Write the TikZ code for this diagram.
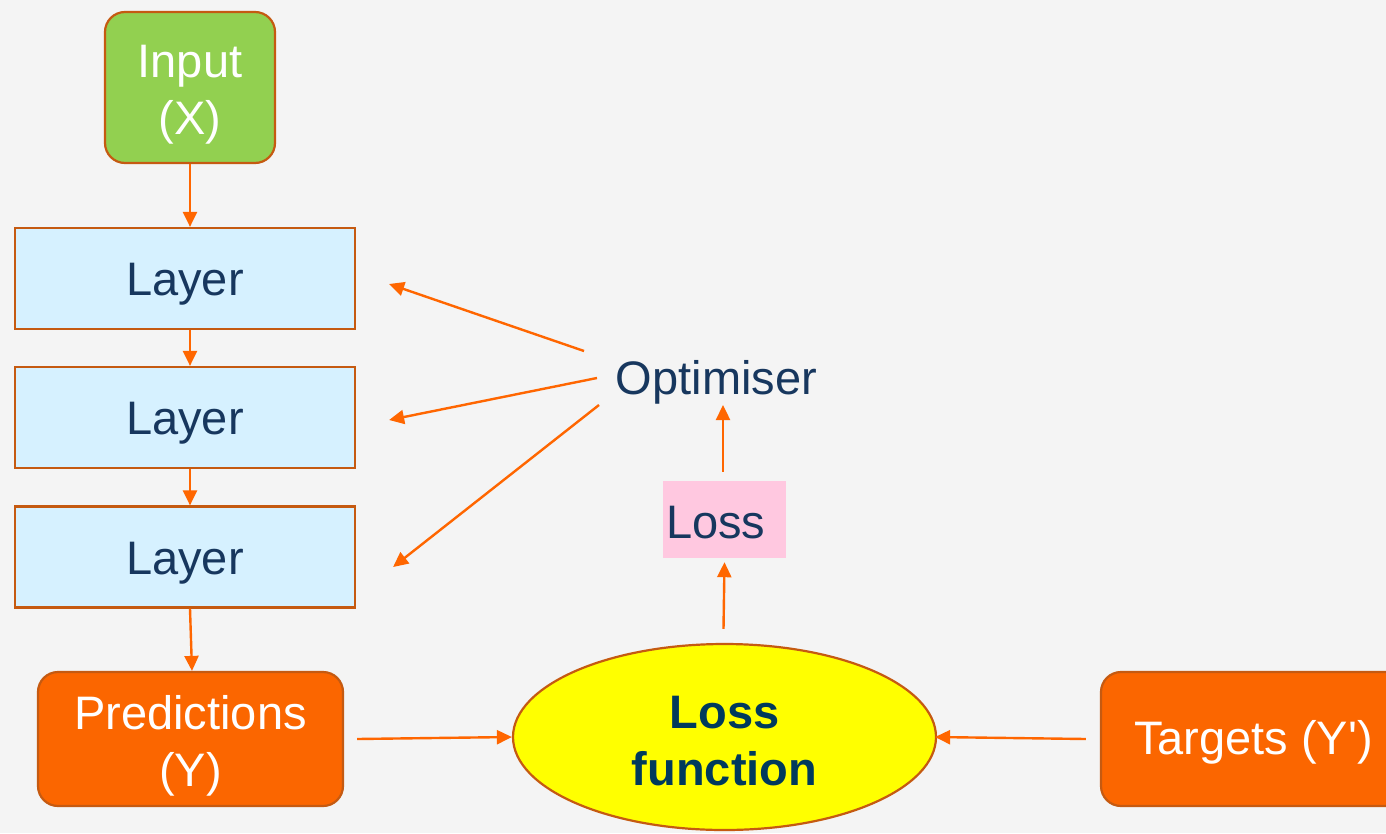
\documentclass[tikz,border=0pt]{standalone}
\usepackage{fontspec}
\setmainfont{Liberation Sans}[Ligatures=TeXOff]
\usetikzlibrary{arrows.meta,shapes.geometric}
\definecolor{bg}{HTML}{F4F4F4}
\definecolor{edge}{HTML}{C55A11}
\definecolor{arrowc}{HTML}{FF6600}
\definecolor{greenfill}{HTML}{92D050}
\definecolor{layerfill}{HTML}{D6F1FF}
\definecolor{navy}{HTML}{17375E}
\definecolor{boldnavy}{HTML}{003A5C}
\definecolor{orangefill}{HTML}{FB6600}
\definecolor{pinkfill}{HTML}{FFC8E0}
\definecolor{yellowfill}{HTML}{FFFF00}
\newcommand{\lowtxt}[2]{\raisebox{-#1}[\height][\depth]{\begin{tabular}{@{}c@{}}#2\end{tabular}}}
\begin{document}
\begin{tikzpicture}[x=1pt,y=-1pt,
  every node/.style={font=\fontsize{47}{57}\selectfont},
  box/.style={draw=edge, line width=2.2pt, inner sep=0pt, align=center},
  layerbox/.style={box, fill=layerfill, text=navy, minimum width=340pt, minimum height=101pt},
  roundbox/.style={box, rounded corners=20pt, text=white, minimum height=134pt},
  conn/.style={draw=arrowc, line width=2.4pt, -{Triangle[length=15pt,width=14pt]}}]
\useasboundingbox (0,0) rectangle (1386,833);
\fill[bg] (0,0) rectangle (1386,833);

\node[box, rounded corners=20pt, fill=greenfill, text=white, minimum width=170pt, minimum height=151pt] (input) at (190,87.5) {\lowtxt{7pt}{Input\\(X)}};
\node[layerbox] (layer1) at (185,278.5) {\lowtxt{6pt}{Layer}};
\node[layerbox] (layer2) at (185,417.5) {\lowtxt{6pt}{Layer}};
\node[layerbox] (layer3) at (185,557) {\lowtxt{6pt}{Layer}};
\node[roundbox, fill=orangefill, minimum width=305pt] (pred) at (190.5,739) {\lowtxt{8pt}{Predictions\\(Y)}};
\node[roundbox, fill=orangefill, minimum width=305pt] (targets) at (1253.5,739) {\lowtxt{4.5pt}{Targets (Y')}};
\node[ellipse, draw=edge, line width=2.2pt, fill=yellowfill, text=boldnavy, inner sep=0pt, align=center,
      minimum width=423pt, minimum height=186pt, font=\fontsize{47}{57}\selectfont\bfseries] (lossfn) at (724.5,737) {\lowtxt{9pt}{Loss\\function}};
\node[fill=pinkfill, text=navy, minimum width=123pt, minimum height=77pt, text width=117pt, inner xsep=3pt, inner ysep=0pt, align=left] (loss) at (724.5,519.5) {\raisebox{-3pt}[\height][\depth]{Loss}};
\node[text=navy, inner sep=0pt] (opt) at (716.5,380) {\raisebox{-2.5pt}[\height][\depth]{Optimiser}};

\draw[conn] (input.south) -- ([xshift=5pt]layer1.north);
\draw[conn] ([xshift=5pt]layer1.south) -- ([xshift=5pt]layer2.north);
\draw[conn] ([xshift=5pt]layer2.south) -- ([xshift=5pt]layer3.north);
\draw[conn] ([xshift=5pt]layer3.south) -- ([xshift=1.5pt]pred.north);
\draw[conn] ([xshift=13pt]pred.east) -- (lossfn.west);
\draw[conn] ([xshift=-14pt]targets.west) -- ([xshift=-2pt]lossfn.east);
\draw[conn] ([xshift=-1pt,yshift=14pt]lossfn.north) -- ([yshift=-4pt]loss.south);
\draw[conn] ([xshift=-1.5pt,yshift=9pt]loss.north) -- ([xshift=6.5pt,yshift=-25pt]opt.center);
\draw[conn] ([xshift=-132.5pt,yshift=29pt]opt.center) -- ([xshift=33pt,yshift=-5.5pt]layer1.east);
\draw[conn] ([xshift=-119.5pt,yshift=2pt]opt.center) -- ([xshift=33pt,yshift=-2.5pt]layer2.east);
\draw[conn] ([xshift=-117.5pt,yshift=-25pt]opt.center) -- ([xshift=37pt,yshift=-10pt]layer3.east);
\end{tikzpicture}
\end{document}
